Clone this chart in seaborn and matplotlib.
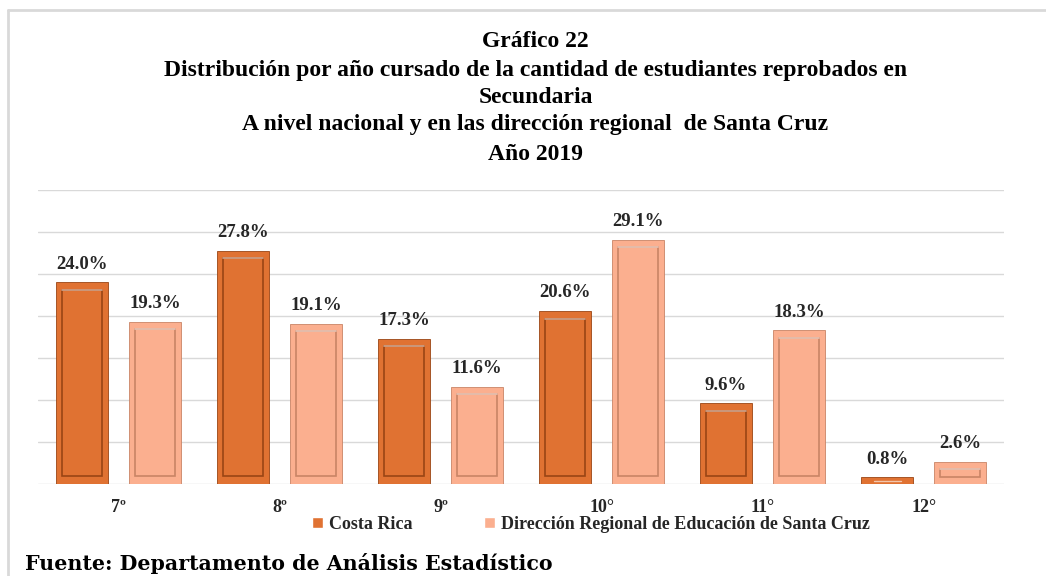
import matplotlib
matplotlib.use("Agg")
import matplotlib.pyplot as plt
import seaborn as sns
import pandas as pd
from matplotlib.patches import Rectangle
from matplotlib.lines import Line2D

categories = ["7º", "8º", "9º", "10°", "11°", "12°"]
series_names = ["Costa Rica", "Dirección Regional de Educación de Santa Cruz"]
costa_rica = [24.0, 27.8, 17.3, 20.6, 9.6, 0.8]
santa_cruz = [19.3, 19.1, 11.6, 29.1, 18.3, 2.6]
colors = ["#E07232", "#FBAF8F"]
edge_dark = ["#9A4514", "#C98466"]

title_lines = [
    "Gráfico 22",
    "Distribución por año cursado de la cantidad de estudiantes reprobados en",
    "Secundaria",
    "A nivel nacional y en las dirección regional  de Santa Cruz",
    "Año 2019",
]
source = "Fuente: Departamento de Análisis Estadístico"

df = pd.DataFrame({
    "cat": categories * 2,
    "serie": [series_names[0]] * 6 + [series_names[1]] * 6,
    "val": costa_rica + santa_cruz,
})

sns.set_theme(style="white")
plt.rcParams["font.family"] = ["Liberation Serif", "DejaVu Serif"]

fig = plt.figure(figsize=(10.46, 5.76), dpi=100)
ax = fig.add_axes([0.0363, 0.1597, 0.9237, 0.5103])

sns.barplot(data=df, x="cat", y="val", hue="serie", order=categories,
            hue_order=series_names, palette=colors, width=0.907, gap=0.29,
            ax=ax, legend=False, saturation=1, linewidth=0)

ax.set_ylim(0, 35)
ax.set_xlim(-0.5, 5.5)
ax.set_yticks(range(0, 36, 5))
ax.yaxis.grid(True, color="#D9D9D9", linewidth=1)
ax.set_axisbelow(True)
ax.tick_params(axis="y", left=False, labelleft=False)
ax.tick_params(axis="x", bottom=False, pad=5)
for s in ax.spines.values():
    s.set_visible(False)
ax.set_xlabel("")
ax.set_ylabel("")
for lbl in ax.get_xticklabels():
    lbl.set_fontweight("bold")
    lbl.set_fontsize(13)

# bevel effect + labels
bars = [p for p in ax.patches if isinstance(p, Rectangle)]
for i, p in enumerate(bars):
    si = i // len(categories)
    x, y = p.get_x(), p.get_y()
    w, h = p.get_width(), p.get_height()
    p.set_edgecolor(edge_dark[si])
    p.set_linewidth(0.6)
    ix = w * 0.12
    iy = min(0.9, h * 0.3)
    if h > 1.2:
        inner = Rectangle((x + ix, y + iy), w - 2 * ix, h - 2 * iy,
                          facecolor="none", edgecolor=edge_dark[si],
                          linewidth=1.2, zorder=p.get_zorder() + 0.1)
        ax.add_patch(inner)
        ax.plot([x + ix, x + w - ix], [y + h - iy, y + h - iy],
                color="white", alpha=0.5, linewidth=1.2, zorder=p.get_zorder() + 0.2)
    else:
        ax.plot([x + ix * 2, x + w - ix * 2], [y + h / 2, y + h / 2],
                color="white", alpha=0.6, linewidth=1, zorder=p.get_zorder() + 0.2)
    ax.annotate(f"{h:.1f}%", (x + w / 2, y + h), xytext=(0, 7),
                textcoords="offset points", ha="center", va="bottom",
                fontsize=13.5, fontweight="bold", color="#262626")

# legend
handles = [Rectangle((0, 0), 1, 1, facecolor=c) for c in colors]
fig.legend(handles, series_names, loc="center", bbox_to_anchor=(0.565, 0.090),
           ncol=2, frameon=False, prop={"size": 13, "weight": "bold"},
           handlelength=0.6, handleheight=0.6, handletextpad=0.3,
           columnspacing=4.0, borderaxespad=0, borderpad=0)

# title
ys = [0.928, 0.878, 0.831, 0.784, 0.732]
for t, yy in zip(title_lines, ys):
    fig.text(0.512, yy, t, ha="center", va="center", fontsize=17,
             fontweight="bold", color="black")

fig.text(0.024, 0.022, source, ha="left", va="center", fontsize=14.8,
         fontweight="bold", color="black", family=["DejaVu Serif"])

# outer frame lines (top and left)
fig.add_artist(Line2D([0.008, 1.0], [0.983, 0.983], color="#D9D9D9",
                      linewidth=2, transform=fig.transFigure))
fig.add_artist(Line2D([0.008, 0.008], [0.0, 0.983], color="#D9D9D9",
                      linewidth=2, transform=fig.transFigure))

fig.savefig("out.png", dpi=100)
